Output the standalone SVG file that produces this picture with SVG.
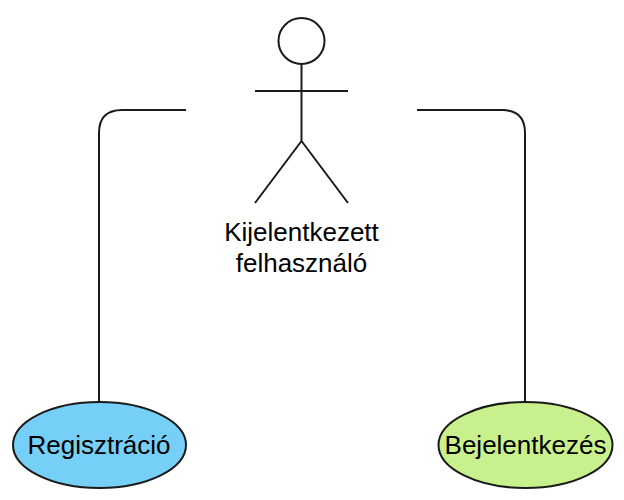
<svg xmlns="http://www.w3.org/2000/svg" width="624" height="500" viewBox="0 0 624 500">
<style>
.l{fill:none;stroke:#1a1a1a;stroke-width:2}
.t{font-family:"Liberation Sans",Arial,sans-serif;font-size:26px;fill:#000;text-anchor:middle}
</style>
<rect width="624" height="500" fill="#fff"/>
<g id="connectors">
<path class="l" d="M186 110H122Q99 110 99 133V402"/>
<path class="l" d="M417 110H502Q525 110 525 133V402"/>
</g>
<g id="actor">
<circle class="l" cx="301.500" cy="41" r="23"/>
<path class="l" d="M301.500 64V141M255 91H348M301.500 141L255 203M301.500 141L348 203"/>
<text class="t" x="301.500" y="241">Kijelentkezett</text>
<text class="t" x="301.500" y="272">felhasználó</text>
</g>
<g id="registration">
<ellipse class="l" cx="99.500" cy="445" rx="86.500" ry="43" style="fill:#76cff7"/>
<text class="t" x="99" y="454">Regisztráció</text>
</g>
<g id="login">
<ellipse class="l" cx="525.500" cy="445" rx="87" ry="43" style="fill:#c8f08c"/>
<text class="t" x="525.500" y="454">Bejelentkezés</text>
</g>
</svg>
